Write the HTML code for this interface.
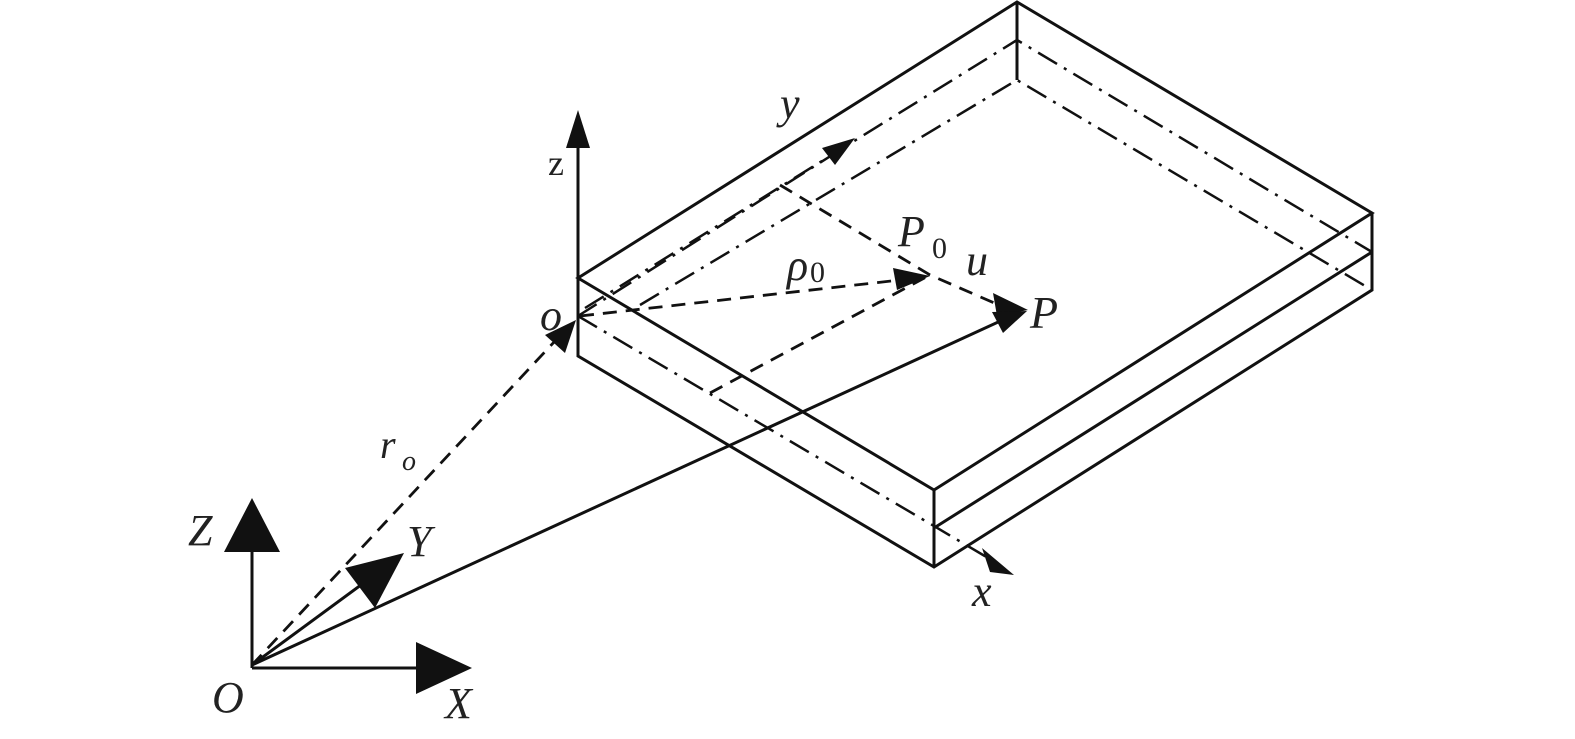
<!DOCTYPE html>
<html><head><style>body{margin:0;background:#fff}svg{display:block}
text{font-family:"Liberation Serif",serif;font-style:italic;fill:#222}
text.n{font-style:normal}</style></head>
<body><svg width="1575" height="739" viewBox="0 0 1575 739" xmlns="http://www.w3.org/2000/svg">
<g stroke="#111" stroke-width="3" fill="none">
<path d="M578,278L1017,2L1372,213L934,490Z"/>
<path d="M578,278V356L934,567L1372,290V213M934,490V567M934,528L1372,252M1017,2V80"/>
<g stroke-dasharray="22,8,3,8" stroke-width="2.5">
<path d="M585,308L1017,40L1372,252"/>
<path d="M640,305L1017,80L1372,290"/>
<path d="M578,316L1000,565"/>
<path d="M578,316L840,150"/>
</g>
<g stroke-dasharray="14,9" stroke-width="2.8">
<path d="M580,316L918,278"/>
<path d="M780,185L930,275L1015,312"/>
<path d="M710,393L930,275"/>
<path d="M252,665L570,325"/>
</g>
<path d="M578,356V115"/>
<path d="M252,665L1020,312"/>
<path d="M252,668V510"/>
<path d="M252,668H460"/>
<path d="M252,665L395,560"/>
</g>
<g fill="#111">
<polygon points="578,110 566,148 590,148"/>
<polygon points="855,138 822,148 835,165"/>
<polygon points="1014,575 982,548 990,572"/>
<polygon points="930,276 893,268 897,290"/>
<polygon points="1028,310 993,293 997,316"/>
<polygon points="1027,311 992,312 1003,333"/>
<polygon points="576,320 545,335 565,353"/>
<polygon points="252,498 224,552 280,552"/>
<polygon points="472,668 416,642 416,694"/>
<polygon points="404,553 345,568 375,608"/>
</g>
<text x="548" y="175" class="n" font-size="36">z</text>
<text x="780" y="118" font-size="44">y</text>
<text x="898" y="246" font-size="44">P</text><text x="932" y="258" font-size="30" class="n">0</text>
<text x="787" y="280" font-size="44">ρ</text><text x="810" y="282" font-size="30" class="n">0</text>
<text x="966" y="275" font-size="44">u</text>
<text x="1030" y="328" font-size="46">P</text>
<text x="540" y="330" font-size="44">o</text>
<text x="380" y="458" font-size="40">r</text><text x="402" y="470" font-size="28">o</text>
<text x="188" y="545" font-size="44">Z</text>
<text x="407" y="556" font-size="44">Y</text>
<text x="212" y="712" font-size="44">O</text>
<text x="445" y="718" font-size="44">X</text>
<text x="972" y="606" font-size="44">x</text>
</svg></body></html>
